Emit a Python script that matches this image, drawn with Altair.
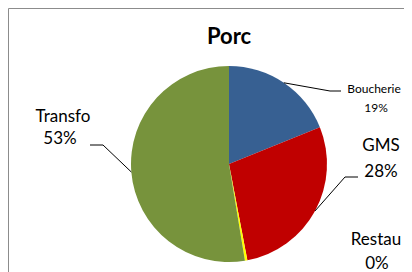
import math
import altair as alt
import pandas as pd

# ---- data ----
categories = ["Boucherie", "GMS", "Restau", "Transfo"]
values = [18.9, 28.1, 0.4, 52.6]
colors = ["#376092", "#C00000", "#FFFF00", "#77933C"]
title_text = "Porc"

# ---- layout (chart pixel coords) ----
W, H = 396, 264
CX, CY, R = 221, 156, 98
label_layout = {
    # name pos, pct pos, font size, leader elbow, leader end
    "Boucherie": dict(nx=366, ny=81, px=368, py=100, fs=12, elbow=(322, 83), end=(333, 83)),
    "GMS": dict(nx=373, ny=138, px=373, py=164, fs=17, elbow=(337, 169), end=(350, 169)),
    "Restau": dict(nx=368, ny=232, px=369, py=256, fs=17, elbow=None, end=None),
    "Transfo": dict(nx=55, ny=109, px=52, py=131, fs=17, elbow=(95, 137), end=(82, 137)),
}

total = sum(values)
pie = pd.DataFrame({"cat": categories, "val": values, "order": range(len(categories))})

text_rows, line_rows = [], []
cum = 0.0
for c, v in zip(categories, values):
    mid = (cum + v / 2) / total * 2 * math.pi
    cum += v
    L = label_layout[c]
    pct = f"{round(v / total * 100)}%"
    text_rows.append(dict(cat=c, x=L["nx"], y=L["ny"], t=c, fs=L["fs"]))
    text_rows.append(dict(cat=c, x=L["px"], y=L["py"], t=pct, fs=L["fs"]))
    if L["elbow"] is not None:
        sx, sy = CX + R * math.sin(mid), CY - R * math.cos(mid)
        for i, (x, y) in enumerate([(sx, sy), L["elbow"], L["end"]]):
            line_rows.append(dict(cat=c, x=x, y=y, i=i))

texts = pd.DataFrame(text_rows)
lines = pd.DataFrame(line_rows)

xs = alt.Scale(domain=[0, W], nice=False, zero=False)
ys = alt.Scale(domain=[0, H], nice=False, zero=False, reverse=True)

border = alt.Chart(pd.DataFrame({"a": [0]})).mark_rect(
    fill="white", stroke="#8C8C8C", strokeWidth=1
).encode(x=alt.value(0.5), y=alt.value(0.5), x2=alt.value(W + 40), y2=alt.value(H + 40))

arcs = alt.Chart(pie).mark_arc(radius=R).encode(
    theta=alt.Theta("val:Q", stack=True),
    order=alt.Order("order:Q"),
    color=alt.Color("cat:N", scale=alt.Scale(domain=categories, range=colors), legend=None),
    x=alt.value(CX),
    y=alt.value(CY),
)

leaders = alt.Chart(lines).mark_line(color="black", strokeWidth=1).encode(
    x=alt.X("x:Q", scale=xs, axis=None),
    y=alt.Y("y:Q", scale=ys, axis=None),
    detail="cat:N",
    order="i:Q",
)

small = alt.Chart(texts[texts.fs < 14]).mark_text(
    font="Lato", fontSize=12, color="black", baseline="middle", align="center"
).encode(x=alt.X("x:Q", scale=xs, axis=None), y=alt.Y("y:Q", scale=ys, axis=None), text="t:N")

big = alt.Chart(texts[texts.fs >= 14]).mark_text(
    font="Lato", fontSize=17, color="black", baseline="middle", align="center"
).encode(x=alt.X("x:Q", scale=xs, axis=None), y=alt.Y("y:Q", scale=ys, axis=None), text="t:N")

title = alt.Chart(pd.DataFrame({"t": [title_text]})).mark_text(
    font="Lato", fontSize=22, fontWeight="bold", color="black", baseline="middle", align="center"
).encode(x=alt.value(CX), y=alt.value(29), text="t:N")

chart = alt.layer(border, arcs, leaders, small, big, title).properties(
    width=W, height=H, autosize=alt.AutoSizeParams(type="none"), padding=0
).configure_view(stroke=None)

chart.save("out.html", embed_options={"renderer": "svg", "actions": False})
